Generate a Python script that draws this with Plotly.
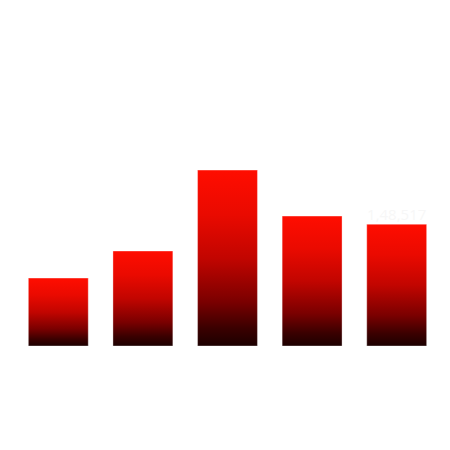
import plotly.graph_objects as go

# bar values
categories = ["A", "B", "C", "D", "E"]
values = [82800, 115800, 214500, 158400, 148517]
labels = ["", "", "", "", "1,48,517"]

bar_half = 0.354
red_scale = [[0.0, "#1c0000"], [0.1, "#3a0000"], [0.25, "#7a0000"],
             [0.5, "#c20500"], [0.75, "#ea0a00"], [1.0, "#ff0d00"]]

fig = go.Figure()
for i, v in enumerate(values):
    fig.add_trace(go.Scatter(
        x=[i - bar_half, i - bar_half, i + bar_half, i + bar_half, i - bar_half],
        y=[0, v, v, 0, 0],
        mode="lines", fill="toself",
        line=dict(color="rgba(255,255,255,0.35)", width=1),
        fillgradient=dict(type="vertical", colorscale=red_scale, start=0, stop=v),
        hoverinfo="skip", showlegend=False))

fig.add_trace(go.Scatter(
    x=list(range(len(values))), y=values, text=labels, mode="text",
    textposition="top center",
    textfont=dict(family="Open Sans", size=15, color="#f7f7f7"),
    showlegend=False))

fig.update_layout(
    width=450, height=450,
    margin=dict(l=8, r=19, t=92, b=112),
    paper_bgcolor="white", plot_bgcolor="white",
    xaxis=dict(range=[-0.5, 4.5], visible=False),
    yaxis=dict(range=[0, 300000], visible=False),
)

fig.write_html("out.html")
